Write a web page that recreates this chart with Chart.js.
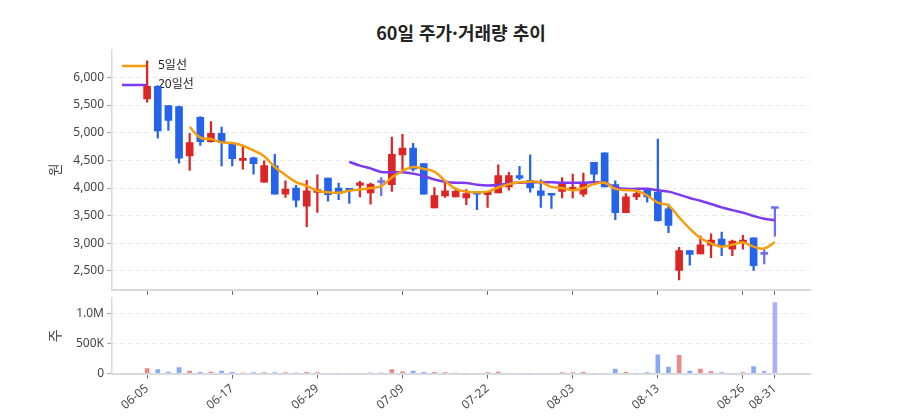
<!DOCTYPE html>
<html lang="ko">
<head>
<meta charset="utf-8">
<title>60일 주가·거래량 추이</title>
<script src="https://cdn.jsdelivr.net/npm/chart.js@4.4.1/dist/chart.umd.min.js"></script>
<style>
  html, body { margin: 0; padding: 0; background: #fff; }
  #wrap { position: relative; width: 900px; height: 420px; overflow: hidden; }
  #title { position: absolute; left: 0; width: 922px; top: 19px; text-align: center;
           font: bold 18px 'Noto Sans CJK KR', 'Noto Sans', sans-serif; color: #222; }
  canvas { position: absolute; left: 0; }
  #price { top: 0; }
  #volume { top: 280px; }
</style>
</head>
<body>
<div id="wrap">
  <div id="title">60일 주가·거래량 추이</div>
  <canvas id="price" width="900" height="300"></canvas>
  <canvas id="volume" width="900" height="140"></canvas>
</div>
<script>
// dates of the 60 trading days
const dates = [
  '06-05','06-06','06-07','06-10','06-11','06-12','06-13','06-14','06-17','06-18',
  '06-19','06-20','06-21','06-24','06-25','06-26','06-29','07-01','07-02','07-03',
  '07-04','07-05','07-07','07-08','07-09','07-10','07-11','07-12','07-15','07-16',
  '07-17','07-19','07-22','07-23','07-24','07-25','07-26','07-29','07-30','08-01',
  '08-03','08-04','08-05','08-06','08-07','08-08','08-09','08-12','08-13','08-14',
  '08-16','08-19','08-20','08-21','08-22','08-23','08-26','08-27','08-29','08-31'
];

// OHLC
const open = [
  5610,5840,5490,5470,4580,5280,4840,4990,4800,4500,
  4545,4105,4400,3890,4000,3670,3920,4180,4000,3990,
  4045,3910,4100,4060,4600,4720,4440,3640,3855,3840,
  3820,3940,3880,3910,4020,4225,4140,3950,3880,3940,
  3975,3890,4465,4635,4060,3555,3840,3975,3925,3625,
  2510,2870,2810,2965,3075,2895,3015,3100,2800,3630
];
const close = [
  5840,5030,5220,4540,4820,4840,4990,4820,4530,4520,
  4440,4405,3890,3980,3780,3950,3970,3880,3900,3960,
  4095,4070,4100,4610,4720,4340,3890,3865,3950,3940,
  3900,3890,3940,4225,4225,4180,4000,3865,3870,4070,
  3990,4070,4250,4020,3555,3840,3900,3840,3410,3325,
  2870,2800,2975,3060,2965,3040,3060,2595,2800,3630
];
const high = [
  6300,5850,5490,5480,4990,5290,5200,5100,4800,4760,
  4560,4490,4610,4130,4050,4140,4240,4180,4090,3990,
  4120,4090,4190,4920,4970,4810,4440,4010,4100,4000,
  3970,3940,3940,4420,4285,4390,4600,4150,3880,4190,
  4250,4270,4465,4635,4130,3900,3950,3975,4885,3710,
  2930,2870,3130,3170,3205,3060,3145,3100,2880,3645
];
const low = [
  5550,4900,5040,4450,4320,4770,4830,4400,4400,4340,
  4250,4100,3890,3830,3660,3300,3560,3760,3790,3720,
  3840,3710,3860,3940,4330,4310,3890,3640,3830,3840,
  3700,3610,3650,3910,3960,4150,3925,3650,3630,3820,
  3820,3850,4090,4020,3430,3555,3790,3745,3400,3195,
  2340,2605,2810,2740,2775,2775,2895,2510,2630,3130
];

// moving averages
const ma5 = [
  null,null,null,null,5105,4910,4885,4825,4815,4765,
  4680,4575,4380,4235,4105,4040,3950,3925,3915,3950,
  3975,4000,4035,4190,4310,4380,4345,4295,4130,3985,
  3935,3925,3935,4010,4070,4105,4115,4105,4020,4000,
  3960,4000,4070,4095,3985,3960,3950,3865,3735,3685,
  3470,3265,3095,3000,2940,2975,3015,2940,2905,3025
];
const ma20 = [
  null,null,null,null,null,null,null,null,null,null,
  null,null,null,null,null,null,null,null,null,4475,
  4405,4355,4290,4285,4285,4260,4215,4155,4115,4095,
  4090,4060,4045,4055,4080,4095,4105,4105,4105,4095,
  4095,4095,4105,4095,4010,3985,3985,3985,3960,3935,
  3880,3820,3770,3710,3650,3600,3555,3495,3445,3420
];

// volume (shares)
const volume = [
  100000, 83000, 39000,117000, 56000, 33000, 39000, 56000, 33000, 17000,
   22000, 22000, 22000, 22000, 17000, 28000, 22000,  6000,  3000,  5000,
    5000, 17000, 17000, 83000, 44000, 56000, 28000, 28000, 22000, 11000,
    5000,  5000, 22000, 39000,  5000,  5000,  5000,  5000,  5000, 22000,
   22000, 28000,  2000,  5000, 89000, 28000,  5000, 22000,328000,122000,
  317000, 56000, 89000, 50000, 22000,  5000, 22000,133000, 56000,1194000
];

// ticks
const xTickIdx = [0, 8, 16, 24, 32, 40, 48, 56, 59];
const priceTicks = [2500, 3000, 3500, 4000, 4500, 5000, 5500, 6000];
const volTicks = [0, 500000, 1000000];
const volTickLabels = ['0', '500K', '1.0M'];

const UP = '#dc2626', DOWN = '#2563eb', FLAT = '#6e6ef0';
const UP_A = 'rgba(220,38,38,0.55)', DOWN_A = 'rgba(37,99,235,0.55)', FLAT_A = 'rgba(110,110,240,0.55)';
const GRID = '#e5e7eb', AXIS = '#d6dae1';

Chart.defaults.font.family = "'Noto Sans', 'Noto Sans CJK KR', sans-serif";
Chart.defaults.font.size = 12;
Chart.defaults.color = '#444';

const candleColor = open.map((o, i) => close[i] > o ? UP : (close[i] < o ? DOWN : FLAT));
const volColor = open.map((o, i) => close[i] > o ? UP_A : (close[i] < o ? DOWN_A : FLAT_A));

const xMin = -3.3, xMax = 62.3;

// legend drawn inside the plot, top-left, from the line datasets
const inlineLegend = {
  id: 'inlineLegend',
  beforeDatasetsDraw(chart) {
    const { ctx, chartArea } = chart;
    const lines = chart.data.datasets.filter(d => d.type === 'line');
    ctx.save();
    ctx.font = "12px 'Noto Sans', 'Noto Sans CJK KR', sans-serif";
    ctx.textBaseline = 'middle';
    lines.forEach((d, k) => {
      const x = chartArea.left + 10;
      const y = chartArea.top + 16 + k * 19;
      ctx.strokeStyle = d.borderColor;
      ctx.lineWidth = 2.5;
      ctx.beginPath();
      ctx.moveTo(x, y);
      ctx.lineTo(x + 26, y);
      ctx.stroke();
      ctx.fillStyle = '#222';
      ctx.fillText(d.label, x + 36, y);
    });
    ctx.restore();
  }
};

function xAxis(showLabels, height) {
  return {
    type: 'linear',
    min: xMin, max: xMax,
    offset: false,
    afterBuildTicks: axis => { axis.ticks = xTickIdx.map(v => ({ value: v })); },
    afterFit: scale => { scale.height = height; },
    ticks: {
      display: showLabels,
      autoSkip: false,
      minRotation: 40, maxRotation: 40,
      padding: 3,
      color: '#4a4a4a',
      callback: v => dates[v]
    },
    grid: { display: true, drawOnChartArea: false, drawTicks: true, tickLength: 5, tickColor: '#666', offset: false },
    border: { display: true, color: AXIS, width: 2 }
  };
}

function yAxis(title, min, max, ticks, fmt) {
  return {
    min: min, max: max,
    afterBuildTicks: axis => { axis.ticks = ticks.map(v => ({ value: v })); },
    afterFit: scale => { scale.width = 112; },
    ticks: { padding: 3, callback: fmt },
    grid: { color: GRID, tickColor: '#aaa', tickLength: 5 },
    border: { display: true, color: AXIS, width: 1.5, dash: [4, 4] },
    title: { display: true, text: title, font: { size: 14 }, color: '#444', padding: { top: 48, bottom: 0 } }
  };
}

// Price chart
new Chart(document.getElementById('price'), {
  type: 'bar',
  data: {
    datasets: [
      {
        type: 'line', label: '5일선',
        data: ma5.map((v, i) => ({ x: i, y: v })),
        borderColor: '#f59e0b', backgroundColor: '#f59e0b',
        borderWidth: 2.5, pointRadius: 0, tension: 0.4, order: 0
      },
      {
        type: 'line', label: '20일선',
        data: ma20.map((v, i) => ({ x: i, y: v })),
        borderColor: '#7c3aed', backgroundColor: '#7c3aed',
        borderWidth: 2.5, pointRadius: 0, tension: 0.4, order: 0
      },
      {
        label: 'body',
        data: open.map((o, i) => ({ x: i, y: [o, close[i]] })),
        backgroundColor: candleColor,
        barThickness: 7, minBarLength: 2, grouped: false, order: 1
      },
      {
        label: 'wick',
        data: low.map((l, i) => ({ x: i, y: [l, high[i]] })),
        backgroundColor: candleColor,
        barThickness: 1.6, grouped: false, order: 2
      }
    ]
  },
  options: {
    responsive: false,
    animation: false,
    layout: { padding: { top: 50, right: 90, left: 0, bottom: 0 } },
    plugins: {
      tooltip: { enabled: false },
      legend: { display: false }
    },
    scales: {
      x: xAxis(false, 9),
      y: yAxis('원', 2160, 6495, priceTicks, v => v.toLocaleString('en-US'))
    }
  },
  plugins: [inlineLegend]
});

// Volume chart
new Chart(document.getElementById('volume'), {
  type: 'bar',
  data: {
    datasets: [{
      label: '거래량',
      data: volume.map((v, i) => ({ x: i, y: v })),
      backgroundColor: volColor,
      borderColor: 'rgba(255,255,255,0.35)',
      borderWidth: 1,
      barThickness: 6
    }]
  },
  options: {
    responsive: false,
    animation: false,
    layout: { padding: { top: 18, right: 90, left: 0, bottom: 0 } },
    plugins: { legend: { display: false }, tooltip: { enabled: false } },
    scales: {
      x: xAxis(true, 46.5),
      y: yAxis('주', 0, 1255000, volTicks, v => volTickLabels[volTicks.indexOf(v)])
    }
  }
});
</script>
</body>
</html>
